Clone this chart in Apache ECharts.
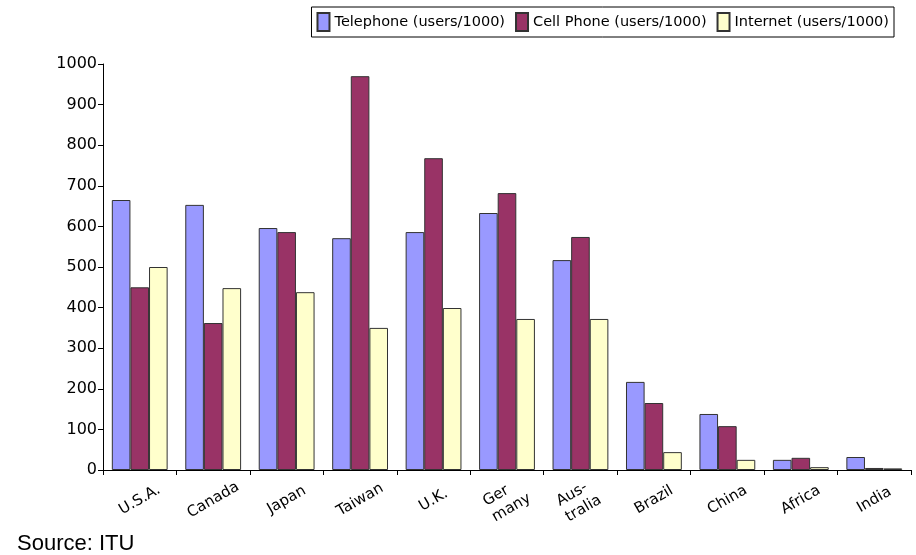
<!DOCTYPE html>
<html>
<head>
<meta charset="utf-8">
<script src="https://cdn.jsdelivr.net/npm/echarts@6/dist/echarts.min.js"></script>
<style>
  html, body { margin: 0; padding: 0; background: #fff; }
  #chart { width: 916px; height: 555px; }
</style>
</head>
<body>
<div id="chart"></div>
<script>
// Users per 1000 inhabitants, by country / region
const countries = ['U.S.A.', 'Canada', 'Japan', 'Taiwan', 'U.K.', 'Ger\nmany', 'Aus-\ntralia', 'Brazil', 'China', 'Africa', 'India'];
const telephone = [665, 653, 596, 571, 586, 633, 517, 217, 138, 25, 32];
const cellPhone = [450, 362, 586, 970, 768, 682, 574, 165, 108, 30, 5];
const internet  = [500, 448, 438, 350, 399, 372, 372, 44, 25, 7, 4];
const yTicks = [0, 100, 200, 300, 400, 500, 600, 700, 800, 900, 1000];

const font = 'DejaVu Sans';
const barBorder = { borderColor: '#333333', borderWidth: 1 };

function barSeries(name, data, color) {
  return {
    name: name,
    type: 'bar',
    data: data,
    barGap: '0%',
    barCategoryGap: '24%',
    itemStyle: Object.assign({ color: color }, barBorder),
    emphasis: { disabled: true }
  };
}

// Hyphenated names break over two lines; keep those lines flush left.
function categoryLabel(value) {
  if (value.indexOf('\n') < 0) return value;
  return value.split('\n').map(function (line) { return '{w|' + line + '}'; }).join('\n');
}

const chart = echarts.init(document.getElementById('chart'), null, { renderer: 'canvas' });
chart.setOption({
  animation: false,
  backgroundColor: '#ffffff',
  grid: { left: 103, right: 5, top: 64, bottom: 85 },
  legend: {
    right: 22,
    top: 7,
    padding: 5,
    itemGap: 10,
    itemWidth: 12,
    itemHeight: 18,
    icon: 'rect',
    borderColor: '#000000',
    borderWidth: 1,
    textStyle: { fontFamily: font, fontSize: 14.5, color: '#000' },
    data: ['Telephone (users/1000)', 'Cell Phone (users/1000)', 'Internet (users/1000)']
  },
  xAxis: {
    type: 'category',
    data: countries,
    axisLine: { lineStyle: { color: '#000', width: 1 } },
    axisTick: { show: true, length: 5, lineStyle: { color: '#000' } },
    axisLabel: {
      rotate: 30,
      align: 'center',
      verticalAlign: 'middle',
      fontFamily: font,
      fontSize: 15,
      color: '#000',
      margin: 30,
      lineHeight: 18,
      interval: 0,
      formatter: categoryLabel,
      rich: {
        w: {
          width: 42,
          align: 'left',
          fontFamily: font,
          fontSize: 15,
          lineHeight: 18,
          color: '#000'
        }
      }
    }
  },
  yAxis: {
    type: 'value',
    min: yTicks[0],
    max: yTicks[yTicks.length - 1],
    interval: yTicks[1] - yTicks[0],
    axisLine: { show: true, lineStyle: { color: '#000', width: 1 } },
    axisTick: { show: true, length: 5, lineStyle: { color: '#000' } },
    splitLine: { show: false },
    axisLabel: {
      fontFamily: font,
      fontSize: 16,
      color: '#000',
      margin: 6,
      formatter: function (v) { return String(v); }
    }
  },
  series: [
    barSeries('Telephone (users/1000)', telephone, '#9999ff'),
    barSeries('Cell Phone (users/1000)', cellPhone, '#993366'),
    barSeries('Internet (users/1000)', internet, '#ffffcc')
  ],
  graphic: [{
    type: 'text',
    left: 17,
    top: 533,
    style: {
      text: 'Source: ITU',
      font: '22px "Liberation Sans", Arial, sans-serif',
      fill: '#000'
    }
  }]
});
</script>
</body>
</html>
